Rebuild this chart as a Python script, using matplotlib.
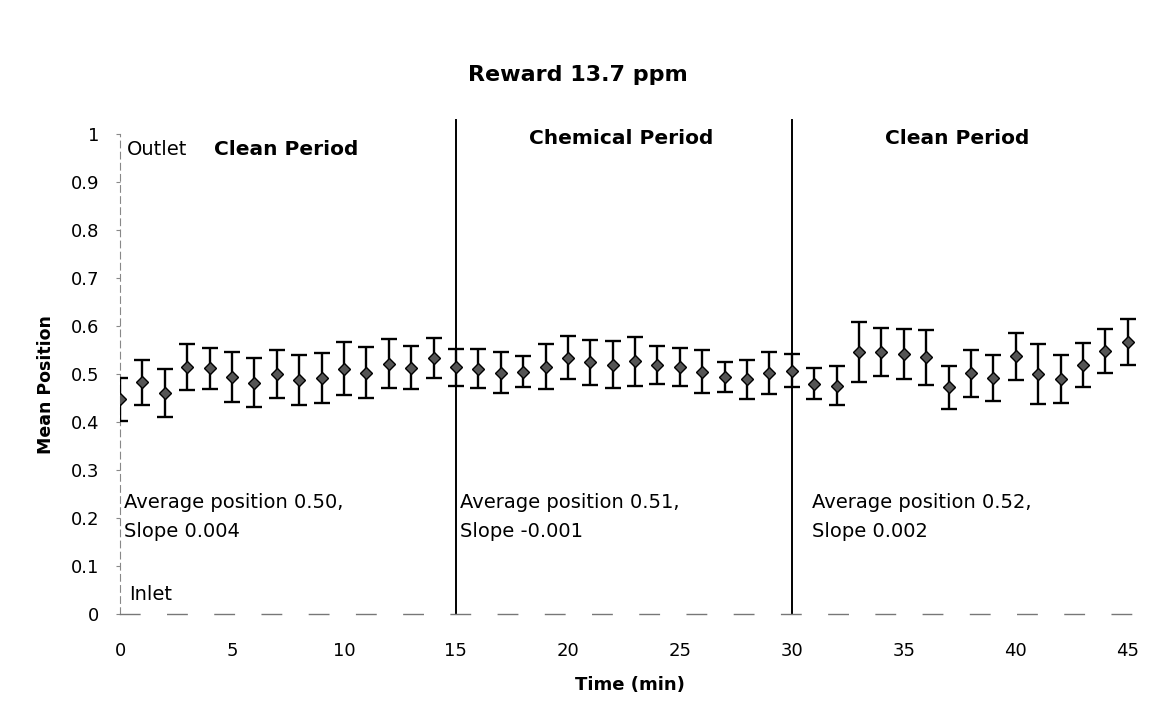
import matplotlib
matplotlib.use("Agg")
import matplotlib.pyplot as plt

plt.rcParams['font.family'] = ['DejaVu Sans']

time_min = list(range(0, 46))
mean_pos = [0.447, 0.483, 0.460, 0.515, 0.512, 0.493, 0.482, 0.500, 0.488, 0.491,
            0.511, 0.503, 0.521, 0.513, 0.533, 0.514, 0.511, 0.503, 0.505, 0.515,
            0.534, 0.524, 0.519, 0.527, 0.519, 0.515, 0.505, 0.493, 0.489, 0.502,
            0.507, 0.480, 0.476, 0.546, 0.546, 0.541, 0.535, 0.472, 0.502, 0.491,
            0.537, 0.500, 0.489, 0.519, 0.548, 0.566]
err = [0.044, 0.047, 0.050, 0.048, 0.043, 0.052, 0.051, 0.050, 0.052, 0.052,
       0.055, 0.053, 0.051, 0.045, 0.042, 0.038, 0.041, 0.043, 0.033, 0.047,
       0.045, 0.047, 0.049, 0.051, 0.039, 0.040, 0.045, 0.031, 0.041, 0.044,
       0.034, 0.033, 0.040, 0.063, 0.050, 0.052, 0.057, 0.044, 0.049, 0.048,
       0.049, 0.063, 0.050, 0.046, 0.045, 0.048]
period_bounds = [15, 30]
period_labels = ["Clean Period", "Chemical Period", "Clean Period"]
period_label_x = [4.2, 22.4, 37.4]
stats_line1 = ["Average position 0.50,", "Average position 0.51,", "Average position 0.52,"]
stats_line2 = ["Slope 0.004", "Slope -0.001", "Slope 0.002"]
stats_x = [0.2, 15.2, 30.9]
x_ticks = [0, 5, 10, 15, 20, 25, 30, 35, 40, 45]
y_ticks = [0, 0.1, 0.2, 0.3, 0.4, 0.5, 0.6, 0.7, 0.8, 0.9, 1]
y_tick_labels = ["0", "0.1", "0.2", "0.3", "0.4", "0.5", "0.6", "0.7", "0.8", "0.9", "1"]

fig = plt.figure(figsize=(11.56, 7.23), dpi=100)
ax = fig.add_axes([120/1156, 1 - 614/723, (1139-120)/1156, (614-134)/723])

ax.errorbar(time_min, mean_pos, yerr=err, fmt='D', color='black',
            markerfacecolor='#555555', markeredgecolor='black', markersize=6,
            ecolor='black', elinewidth=1.7, capsize=6, capthick=1.7, zorder=3)

for b in period_bounds:
    ax.axvline(b, ymin=0, ymax=1.03, color='black', lw=1.4, clip_on=False)

ax.set_xlim(0, 45.5)
ax.set_ylim(0, 1)
ax.set_xticks(x_ticks)
ax.set_xticklabels([str(t) for t in x_ticks])
ax.set_yticks(y_ticks)
ax.set_yticklabels(y_tick_labels)

for s in ['top', 'right']:
    ax.spines[s].set_visible(False)
ax.spines['left'].set_linestyle((0, (6, 4)))
ax.spines['left'].set_color('#888888')
ax.spines['left'].set_linewidth(0.8)
ax.spines['bottom'].set_linestyle((0, (14, 20)))
ax.spines['bottom'].set_color('#777777')
ax.spines['bottom'].set_linewidth(1.0)

ax.tick_params(axis='x', length=0, pad=20, labelsize=13)
ax.tick_params(axis='y', length=3, width=0.8, color='#888888', pad=12, labelsize=13)

ax.set_xlabel("Time (min)", fontsize=13, fontweight='bold', labelpad=12)
ax.set_ylabel("Mean Position", fontsize=12.5, fontweight='bold')
ax.yaxis.set_label_coords(-0.064, 0.477)

fig.text(0.5, 1 - 75/723, "Reward 13.7 ppm", ha='center', va='center',
         fontsize=16, fontweight='bold')

ax.text(0.3, 0.967, "Outlet", fontsize=14, ha='left', va='center')
ax.text(period_label_x[0], 0.967, period_labels[0], fontsize=14.5,
        fontweight='bold', ha='left', va='center')
ax.text(period_label_x[1], 0.99, period_labels[1], fontsize=14.5,
        fontweight='bold', ha='center', va='center')
ax.text(period_label_x[2], 0.99, period_labels[2], fontsize=14.5,
        fontweight='bold', ha='center', va='center')

for tx, l1, l2 in zip(stats_x, stats_line1, stats_line2):
    ax.text(tx, 0.233, l1, fontsize=14, ha='left', va='center')
    ax.text(tx, 0.171, l2, fontsize=14, ha='left', va='center')

ax.text(0.4, 0.04, "Inlet", fontsize=14, ha='left', va='center')

fig.savefig("out.png", dpi=100)
